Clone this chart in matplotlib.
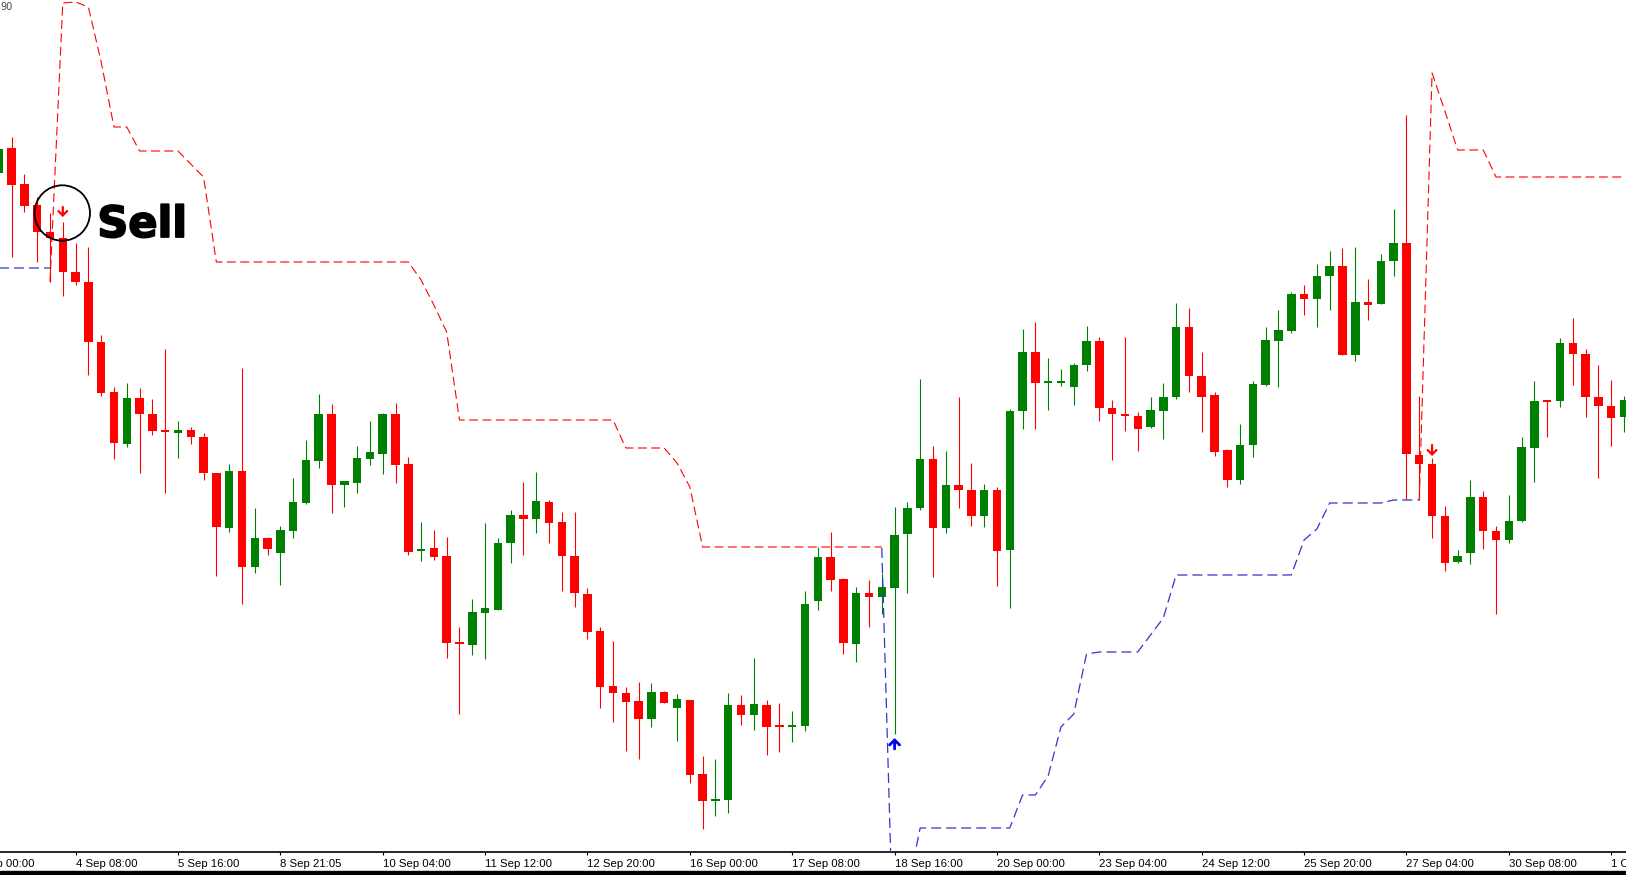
import numpy as np
import matplotlib
matplotlib.use('Agg')
import matplotlib.pyplot as plt
from matplotlib.patches import Ellipse, Rectangle
import matplotlib.patheffects as pe

nan = np.nan

# 4h candles, prices in chart points
opens = [679, 704, 668, 647, 620, 614, 580, 570, 510, 460, 408, 454, 438, 422, 419, 422,
         415, 379, 324, 381, 285, 314, 299, 321, 349, 391, 438, 367, 369, 393, 398, 438,
         388, 301, 304, 296, 210, 207, 239, 242, 309, 337, 333, 350, 330, 296, 258, 221,
         166, 159, 151, 133, 160, 144, 152, 78, 51, 52, 147, 137, 147, 127, 125, 126,
         251, 295, 273, 208, 259, 255, 264, 318, 344, 393, 324, 367, 362, 336, 362, 302,
         441, 500, 469, 469, 465, 487, 511, 444, 438, 436, 425, 441, 455, 525, 476, 457,
         402, 372, 407, 467, 511, 521, 558, 553, 576, 586, 497, 550, 548, 591, 609, 397,
         388, 336, 290, 299, 355, 321, 312, 331, 404, 452, 451, 509, 498, 455, 446, 435]
highs = [706, 715, 678, 655, 639, 630, 609, 605, 517, 465, 469, 464, 453, 503, 431, 425,
         419, 379, 388, 484, 344, 315, 326, 374, 412, 458, 448, 371, 406, 431, 439, 449,
         395, 330, 322, 315, 225, 253, 329, 314, 342, 370, 380, 352, 340, 340, 264, 225,
         211, 165, 170, 169, 161, 158, 152, 96, 93, 159, 157, 194, 152, 149, 141, 261,
         305, 320, 274, 265, 272, 279, 345, 350, 473, 406, 401, 455, 389, 368, 365, 443,
         523, 530, 494, 483, 489, 526, 515, 452, 515, 440, 455, 469, 549, 544, 500, 460,
         403, 428, 471, 525, 542, 560, 567, 588, 601, 604, 605, 573, 598, 643, 737, 456,
         394, 346, 302, 372, 361, 326, 357, 415, 471, 452, 514, 534, 503, 487, 472, 456]
lows = [676, 595, 640, 590, 570, 556, 567, 477, 456, 393, 405, 379, 417, 359, 394, 408,
        372, 276, 320, 248, 279, 297, 267, 314, 348, 384, 339, 345, 359, 387, 378, 369,
        297, 291, 292, 194, 138, 197, 193, 242, 289, 297, 319, 309, 261, 245, 213, 144,
        130, 101, 93, 125, 149, 111, 69, 23, 36, 39, 127, 122, 97, 100, 110, 121,
        242, 261, 198, 190, 225, 238, 118, 259, 342, 275, 319, 344, 326, 325, 266, 244,
        423, 423, 442, 466, 447, 481, 431, 392, 421, 401, 424, 413, 453, 460, 420, 396,
        365, 368, 395, 466, 465, 519, 537, 525, 542, 497, 491, 532, 548, 576, 353, 352,
        314, 281, 289, 288, 303, 238, 309, 330, 370, 415, 445, 467, 435, 374, 406, 420]
closes = [703, 667, 646, 620, 614, 580, 570, 510, 459, 409, 454, 438, 421, 420, 422, 415,
          379, 325, 381, 285, 314, 303, 322, 350, 392, 438, 367, 371, 394, 400, 438, 387,
          300, 303, 295, 209, 208, 240, 244, 309, 337, 333, 351, 329, 296, 259, 220, 165,
          159, 150, 133, 160, 149, 153, 77, 51, 53, 147, 137, 148, 125, 125, 127, 248,
          295, 272, 209, 259, 255, 265, 317, 344, 393, 324, 367, 362, 336, 362, 301, 441,
          500, 469, 470, 471, 487, 511, 444, 438, 436, 423, 442, 455, 525, 476, 455, 400,
          372, 407, 468, 512, 522, 558, 553, 576, 586, 497, 550, 547, 591, 609, 398, 388,
          336, 289, 296, 355, 321, 312, 331, 405, 451, 450, 509, 498, 455, 446, 434, 452]

# trailing stop lines (down-trend red, up-trend blue)
red_line = ([nan] * 4 + [570, 849, 850, 845, 790, 725, 725, 701, 701, 701, 701, 688, 675]
            + [590] * 16 + [572, 547, 520] + [432] * 13 + [404] * 4 + [389, 365]
            + [305] * 15 + [nan] * 41 + [352, 779, 741, 702, 702, 702] + [675] * 11)
blue_line = ([584] * 5 + [nan] * 64 + [304, -136, -38] + [24] * 8 + [57, 57, 76, 125, 138, 198]
             + [200] * 4 + [217, 234] + [277] * 10 + [312, 323] + [349] * 5 + [352] * 3
             + [nan] * 16)

sell_signals = [(5, 645, 635), (112, 407, 396)]   # bar, arrow tail, arrow tip
buy_signals = [(70, 103, 114)]

tick_bars = [6, 14, 22, 30, 38, 46, 54, 62, 70, 78, 86, 94, 102, 110, 118, 126]
tick_labels = ['4 Sep 08:00', '5 Sep 16:00', '8 Sep 21:05', '10 Sep 04:00', '11 Sep 12:00',
               '12 Sep 20:00', '16 Sep 00:00', '17 Sep 08:00', '18 Sep 16:00', '20 Sep 00:00',
               '23 Sep 04:00', '24 Sep 12:00', '25 Sep 20:00', '27 Sep 04:00', '30 Sep 08:00',
               '1 Oct 16:00']
first_label = (-2, '3 Sep 00:00')

RED = '#ff0000'
GREEN = '#008000'
LABEL_FONT = ['Liberation Sans Narrow', 'Liberation Sans']

fig = plt.figure(figsize=(16.26, 8.75), dpi=100)
ax = fig.add_axes([0, 23 / 875, 1, 852 / 875])

o = np.array(opens, float)
h = np.array(highs, float)
l = np.array(lows, float)
c = np.array(closes, float)
x = np.arange(len(o))
up = c >= o
cols = np.where(up, GREEN, RED)

ax.vlines(x, l, h, colors=cols, linewidth=0.8, zorder=2)
body_lo = np.minimum(o, c)
body_h = np.maximum(np.abs(c - o), 2.0)
ax.bar(x, body_h, bottom=body_lo, width=0.66, color=cols, linewidth=0, zorder=3)

ax.plot(x, red_line, color=RED, lw=0.8, dashes=(8, 4), zorder=4)
ax.plot(x, blue_line, color='#3535c8', lw=0.9, dashes=(8, 4), zorder=4)

arrow_style = '->,head_length=0.45,head_width=0.45'
for b, y0, y1 in sell_signals:
    ax.annotate('', xy=(b, y1), xytext=(b, y0),
                arrowprops=dict(arrowstyle=arrow_style, color=RED, lw=1.6, mutation_scale=7,
                                shrinkA=0, shrinkB=0), zorder=5)
for b, y0, y1 in buy_signals:
    ax.annotate('', xy=(b, y1), xytext=(b, y0),
                arrowprops=dict(arrowstyle=arrow_style, color='#0000ee', lw=2.0, mutation_scale=8,
                                shrinkA=0, shrinkB=0), zorder=5)

# sell annotation
ax.add_patch(Ellipse((4.96, 639), width=4.33, height=55.4, fill=False,
                     edgecolor='black', lw=1.3, zorder=6))
ax.text(7.7, 615, 'Sell', fontsize=31, fontweight='bold', family='DejaVu Sans',
        color='black', ha='left', va='baseline', zorder=6,
        path_effects=[pe.withStroke(linewidth=1.3, foreground='black')])

ax.set_xlim(0.094, 127.155)
ax.set_ylim(0, 852)
for s in ['top', 'left', 'right']:
    ax.spines[s].set_visible(False)
ax.spines['bottom'].set_linewidth(1.2)
ax.set_yticks([])
ax.set_xticks(tick_bars)
ax.set_xticklabels(tick_labels, ha='left', fontsize=8.2, family=LABEL_FONT)
ax.tick_params(axis='x', direction='out', length=2.5, width=0.8, pad=2.5)
ax.annotate(first_label[1], xy=(first_label[0], 0), xycoords='data',
            xytext=(0, -(2.5 + 2.5)), textcoords='offset points',
            ha='left', va='top', fontsize=8.2, family=LABEL_FONT, annotation_clip=False)

fig.text(0.0, 1 - 2 / 875, '90', fontsize=7, color='#444444', va='top', ha='left')
fig.patches.append(Rectangle((0, 0), 1, 4 / 875, transform=fig.transFigure,
                             color='black', zorder=10))

fig.savefig('out.png', dpi=100, facecolor='white')
